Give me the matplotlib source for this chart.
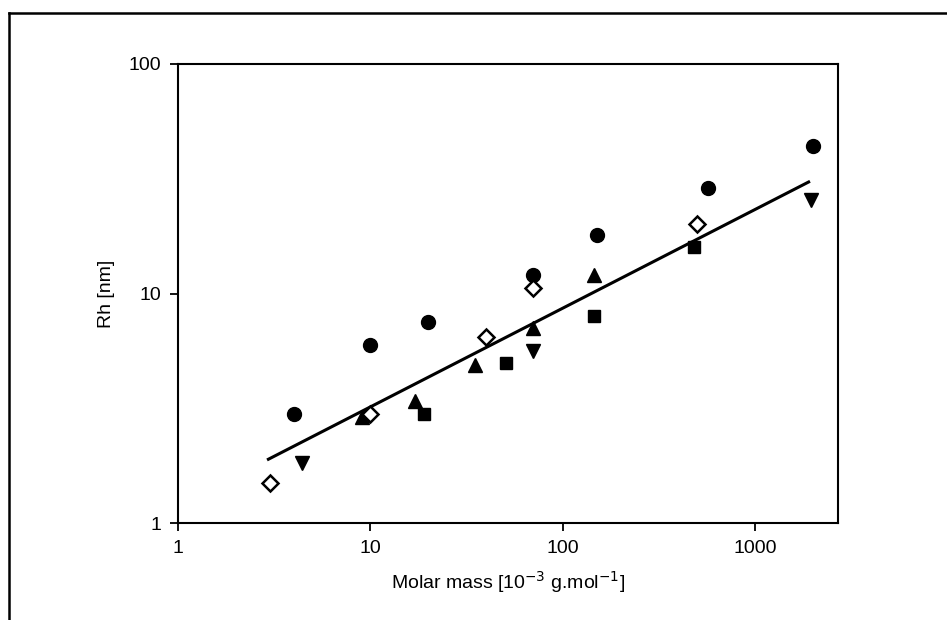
import matplotlib.pyplot as plt
from matplotlib.lines import Line2D

plt.rcParams['font.family'] = ['Liberation Sans', 'DejaVu Sans']

# Data (molar mass in 10^-3 g/mol, Rh in nm)
circle_x = [4, 10, 20, 70, 150, 570, 2000]
circle_y = [3.0, 6.0, 7.5, 12.0, 18.0, 28.8, 44.0]

diamond_x = [3, 10, 40, 70, 500]
diamond_y = [1.5, 3.0, 6.5, 10.6, 20.0]

tri_up_x = [9, 17, 35, 70, 145]
tri_up_y = [2.9, 3.4, 4.9, 7.1, 12.0]

square_x = [19, 51, 145, 480]
square_y = [3.0, 5.0, 8.0, 16.0]

tri_down_x = [4.4, 70, 1950]
tri_down_y = [1.83, 5.6, 25.6]

fit_x = [2.95, 1900]
fit_y = [1.9, 30.6]

fig = plt.figure(figsize=(9.47, 6.2), dpi=100)
ax = fig.add_axes([0.188, 0.156, 0.697, 0.741])

ax.plot(fit_x, fit_y, color='black', linewidth=2.2, zorder=2)
ax.plot(circle_x, circle_y, 'o', color='black', markersize=10, linestyle='none', zorder=3)
ax.plot(tri_up_x, tri_up_y, '^', color='black', markersize=10, linestyle='none', zorder=3)
ax.plot(square_x, square_y, 's', color='black', markersize=8.5, linestyle='none', zorder=3)
ax.plot(tri_down_x, tri_down_y, 'v', color='black', markersize=10, linestyle='none', zorder=3)
ax.plot(diamond_x, diamond_y, 'D', markerfacecolor='white', markeredgecolor='black',
        markeredgewidth=1.8, markersize=8, linestyle='none', zorder=4)

ax.set_xscale('log')
ax.set_yscale('log')
ax.set_xlim(1, 10 ** 3.432)
ax.set_ylim(1, 100)

ax.set_xticks([1, 10, 100, 1000])
ax.set_xticklabels(['1', '10', '100', '1000'])
ax.set_yticks([1, 10, 100])
ax.set_yticklabels(['1', '10', '100'])
ax.minorticks_off()
ax.tick_params(direction='out', length=6, width=1.3, labelsize=14, pad=6)

for s in ax.spines.values():
    s.set_linewidth(1.5)

ax.set_xlabel('Molar mass [10$^{\\mathrm{-3}}$ g.mol$^{\\mathrm{-1}}$]', fontsize=14, labelpad=9)
ax.set_ylabel('Rh [nm]', fontsize=14, labelpad=10)

# outer frame (top and left only)
fig.add_artist(Line2D([9 / 947, 1], [1 - 13 / 620, 1 - 13 / 620], transform=fig.transFigure,
                      color='black', linewidth=1.8))
fig.add_artist(Line2D([9 / 947, 9 / 947], [0, 1 - 13 / 620], transform=fig.transFigure,
                      color='black', linewidth=1.8))

fig.savefig('out.png', dpi=100)
